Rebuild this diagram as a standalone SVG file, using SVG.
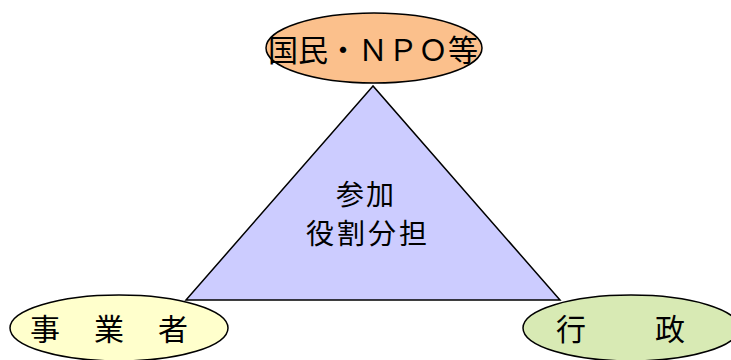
<svg xmlns="http://www.w3.org/2000/svg" width="731" height="360" viewBox="0 0 731 360">
<style>
.e{stroke:#000;stroke-width:1.5}
.t{font-family:"Noto Sans CJK JP","Noto Sans CJK SC",sans-serif;fill:#000;text-anchor:middle}
</style>
<rect width="731" height="360" fill="#fff"/>
<g id="connectors">
<polygon id="triangle" points="373,86 186,300 560,300" fill="#CCCCFF" stroke="#000" stroke-width="1.5"/>
</g>
<g id="center">
<text class="t" x="366" y="205" font-size="28" letter-spacing="2">参加</text>
<text class="t" x="368" y="244" font-size="28" letter-spacing="3">役割分担</text>
</g>
<g id="top">
<ellipse class="e" cx="374" cy="48" rx="108" ry="35" fill="#FBC08C"/>
<text class="t" x="373" y="61" font-size="30">国民・ＮＰＯ等</text>
</g>
<g id="left">
<ellipse class="e" cx="119" cy="328" rx="109" ry="33" fill="#FFFFCC"/>
<text class="t" x="110" y="340" font-size="30" letter-spacing="2">事　業　者</text>
</g>
<g id="right">
<ellipse class="e" cx="631" cy="328" rx="108" ry="33" fill="#D8EAB4"/>
<text class="t" x="622" y="340" font-size="30" letter-spacing="3">行　　政</text>
</g>
</svg>
